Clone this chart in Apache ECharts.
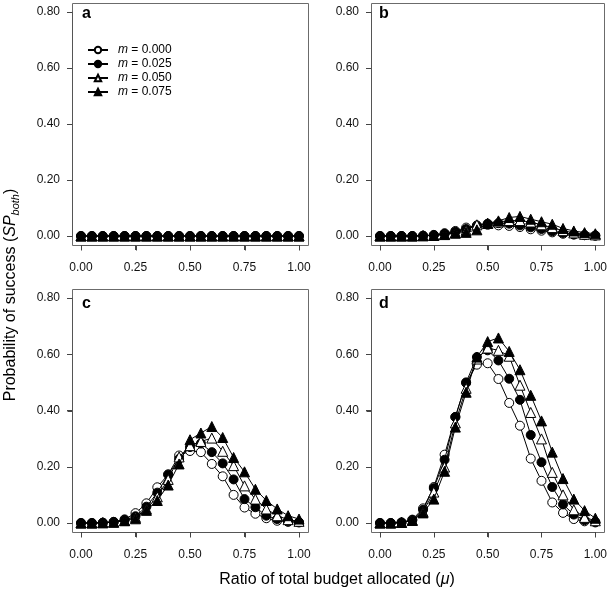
<!DOCTYPE html>
<html>
<head>
<meta charset="utf-8">
<script src="https://cdn.jsdelivr.net/npm/echarts/dist/echarts.min.js"></script>
<style>html,body{margin:0;padding:0;background:#fff;}#c{width:610px;height:589px;}</style>
</head>
<body>
<div id="c"></div>
<script>
// ---- data ----
const mu = [0,0.05,0.10,0.15,0.20,0.25,0.30,0.35,0.40,0.45,0.50,0.55,0.60,0.65,0.70,0.75,0.80,0.85,0.90,0.95,1.00];
const seriesNames = ['m = 0.000','m = 0.025','m = 0.050','m = 0.075'];
const panelLetters = ['a','b','c','d'];
const xTicks = [0, 0.25, 0.5, 0.75, 1];
const yTicks = [0, 0.2, 0.4, 0.6, 0.8];

const aM000 = [0,0,0,0,0,0,0,0,0,0,0,0,0,0,0,0,0,0,0,0,0];
const aM025 = [0,0,0,0,0,0,0,0,0,0,0,0,0,0,0,0,0,0,0,0,0];
const aM050 = [0,0,0,0,0,0,0,0,0,0,0,0,0,0,0,0,0,0,0,0,0];
const aM075 = [0,0,0,0,0,0,0,0,0,0,0,0,0,0,0,0,0,0,0,0,0];

const bM000 = [0,0,0,0,0.001,0.004,0.010,0.018,0.030,0.038,0.040,0.038,0.036,0.032,0.024,0.019,0.013,0.008,0.005,0.003,0.001];
const bM025 = [0,0,0,0,0.001,0.003,0.008,0.015,0.025,0.036,0.044,0.046,0.044,0.038,0.031,0.025,0.017,0.011,0.006,0.003,0.002];
const bM050 = [0,0,0,0,0.001,0.002,0.006,0.012,0.020,0.040,0.045,0.050,0.055,0.055,0.050,0.040,0.030,0.019,0.011,0.006,0.004];
const bM075 = [0,0,0,0,0.001,0.002,0.005,0.010,0.013,0.022,0.045,0.054,0.066,0.070,0.060,0.051,0.042,0.027,0.018,0.012,0.008];

const cM000 = [0,0,0.001,0.004,0.013,0.035,0.070,0.127,0.173,0.240,0.256,0.252,0.210,0.166,0.100,0.055,0.033,0.017,0.008,0.004,0.002];
const cM025 = [0,0,0.001,0.004,0.011,0.024,0.058,0.108,0.172,0.228,0.270,0.283,0.252,0.212,0.155,0.085,0.056,0.026,0.014,0.006,0.003];
const cM050 = [0,0,0.001,0.003,0.009,0.020,0.050,0.093,0.155,0.235,0.275,0.290,0.302,0.255,0.204,0.132,0.085,0.050,0.026,0.012,0.006];
const cM075 = [0,0,0.001,0.003,0.008,0.015,0.045,0.080,0.135,0.210,0.296,0.320,0.343,0.304,0.233,0.182,0.120,0.080,0.050,0.026,0.014];

const dM000 = [0,0,0.002,0.012,0.052,0.128,0.243,0.377,0.498,0.563,0.568,0.512,0.427,0.346,0.229,0.150,0.073,0.036,0.014,0.006,0.002];
const dM025 = [0,0,0.002,0.010,0.047,0.124,0.225,0.377,0.500,0.590,0.614,0.578,0.513,0.438,0.313,0.216,0.128,0.066,0.030,0.010,0.004];
const dM050 = [0,0,0.002,0.010,0.040,0.110,0.199,0.356,0.479,0.583,0.622,0.614,0.593,0.490,0.393,0.299,0.180,0.100,0.047,0.020,0.008];
const dM075 = [0,0,0.002,0.009,0.036,0.085,0.184,0.341,0.465,0.590,0.645,0.658,0.610,0.545,0.454,0.363,0.252,0.158,0.085,0.044,0.017];

const panels = [[aM000,aM025,aM050,aM075],[bM000,bM025,bM050,bM075],[cM000,cM025,cM050,cM075],[dM000,dM025,dM050,dM075]];

// ---- styling ----
const FONT = '"Liberation Sans", Arial, Helvetica, sans-serif';
const BOX = '#6b6b6b';
const TICK = '#444';
const grids = [
  {left:81, top:12, width:218, height:224},
  {left:380, top:12, width:219, height:224},
  {left:81, top:298, width:218, height:225},
  {left:380, top:298, width:219, height:225}
];
const letterPos = [[82,14],[379,14],[82,304],[379,304]];
const markerDefs = [
  {symbol:'circle', size:9, fill:'#ffffff'},
  {symbol:'circle', size:9, fill:'#000000'},
  {symbol:'triangle', size:10, fill:'#ffffff'},
  {symbol:'triangle', size:10, fill:'#000000'}
];
const xMin = xTicks[0], xMax = xTicks[xTicks.length - 1];
const yMin = yTicks[0], yMax = yTicks[yTicks.length - 1];

const xAxes = [], yAxes = [], series = [], graphics = [];
grids.forEach((g, i) => {
  g.show = false;
  xAxes.push({
    type:'value', gridIndex:i, min:xMin, max:xMax, interval:xTicks[1] - xTicks[0], position:'bottom', offset:9,
    axisLine:{show:true, onZero:false, lineStyle:{color:'#555', width:1}}, splitLine:{show:false},
    axisTick:{show:true, inside:false, length:5, lineStyle:{color:TICK, width:1}},
    axisLabel:{margin:17, fontSize:12, fontFamily:FONT, color:'#111', showMinLabel:true, showMaxLabel:true,
      formatter:v => Number(v).toFixed(2)}
  });
  yAxes.push({
    type:'value', gridIndex:i, min:yMin, max:yMax, interval:yTicks[1] - yTicks[0], position:'left', offset:9,
    axisLine:{show:true, onZero:false, lineStyle:{color:'#555', width:1}}, splitLine:{show:false},
    axisTick:{show:true, inside:false, length:5, lineStyle:{color:TICK, width:1}},
    axisLabel:{margin:12, fontSize:12, fontFamily:FONT, color:'#111', showMinLabel:true, showMaxLabel:true,
      formatter:v => Number(v).toFixed(2)}
  });
  panels[i].forEach((vals, k) => {
    const md = markerDefs[k];
    series.push({
      type:'line', name:seriesNames[k], xAxisIndex:i, yAxisIndex:i,
      data: mu.map((x, j) => [x, vals[j]]),
      symbol: md.symbol, symbolSize: md.size, showAllSymbol:true, clip:false,
      lineStyle:{color:'#000', width:1},
      itemStyle:{color:md.fill, borderColor:'#000', borderWidth:1},
      emphasis:{disabled:true}, animation:false, z: 2 + k
    });
  });
  graphics.push({
    type:'text', x:letterPos[i][0], y:letterPos[i][1],
    style:{text:panelLetters[i], font:'bold 16px ' + FONT, fill:'#000', verticalAlign:'middle', align:'left'}
  });
});

graphics.push({
  type:'text', x:337, y:580,
  style:{
    text:'Ratio of total budget allocated ({i|μ})',
    font:'16px ' + FONT, fill:'#000', align:'center', verticalAlign:'middle',
    rich:{i:{fontStyle:'italic', fontSize:16, fontFamily:FONT}}
  }
});
graphics.push({
  type:'text', x:12, y:295, rotation:Math.PI/2,
  style:{
    text:'{n|Probability of success (}{i|SP}{s|both}{n|)}',
    font:'16px ' + FONT, fill:'#000', align:'center', verticalAlign:'middle',
    rich:{
      n:{fontSize:16, fontFamily:FONT, verticalAlign:'top', lineHeight:18},
      i:{fontSize:16, fontFamily:FONT, fontStyle:'italic', verticalAlign:'top', lineHeight:18},
      s:{fontSize:11, fontFamily:FONT, fontStyle:'italic', verticalAlign:'bottom', lineHeight:13, padding:[9,0,0,0]}
    }
  }
});

const chart = echarts.init(document.getElementById('c'), null, {renderer:'canvas'});
chart.setOption({
  animation:false,
  backgroundColor:'#ffffff',
  grid: grids,
  xAxis: xAxes,
  yAxis: yAxes,
  legend:{
    data: seriesNames, orient:'vertical', left:87, top:43.5, padding:0,
    itemWidth:20, itemHeight:8, itemGap:1,
    selectedMode:false,
    textStyle:{fontSize:12, lineHeight:13, fontFamily:FONT, color:'#000', padding:[0,0,0,5],
      rich:{i:{fontStyle:'italic', fontSize:12, lineHeight:13, fontFamily:FONT}}},
    formatter: name => '{i|m}' + name.slice(1)
  },
  series: series,
  graphic: graphics
});

// R-style plot box (data range extended 4% each side) and outward ticks, placed through the axes' scales
const extras = [];
grids.forEach((g, i) => {
  const xs = xMax - xMin, ys = yMax - yMin;
  const p0 = chart.convertToPixel({gridIndex:i}, [xMin - 0.04 * xs, yMin - 0.04 * ys]);
  const p1 = chart.convertToPixel({gridIndex:i}, [xMax + 0.04 * xs, yMax + 0.04 * ys]);
  const x0 = Math.round(p0[0]) + 0.5, x1 = Math.round(p1[0]) + 0.5;
  const y0 = Math.round(p1[1]) + 0.5, y1 = Math.round(p0[1]) + 0.5;
  extras.push({type:'rect', z:0, silent:true,
    shape:{x:x0, y:y0, width:x1 - x0, height:y1 - y0},
    style:{fill:null, stroke:BOX, lineWidth:1}});
  xTicks.forEach(v => {
    const px = Math.round(chart.convertToPixel({gridIndex:i}, [v, yMin])[0]) + 0.5;
    extras.push({type:'line', z:0, silent:true, shape:{x1:px, y1:y1, x2:px, y2:y1 + 5},
      style:{stroke:TICK, lineWidth:1}});
  });
  yTicks.forEach(v => {
    const py = Math.round(chart.convertToPixel({gridIndex:i}, [xMin, v])[1]) + 0.5;
    extras.push({type:'line', z:0, silent:true, shape:{x1:x0 - 5, y1:py, x2:x0, y2:py},
      style:{stroke:TICK, lineWidth:1}});
  });
});
chart.setOption({graphic: graphics.concat(extras)});
</script>
</body>
</html>
